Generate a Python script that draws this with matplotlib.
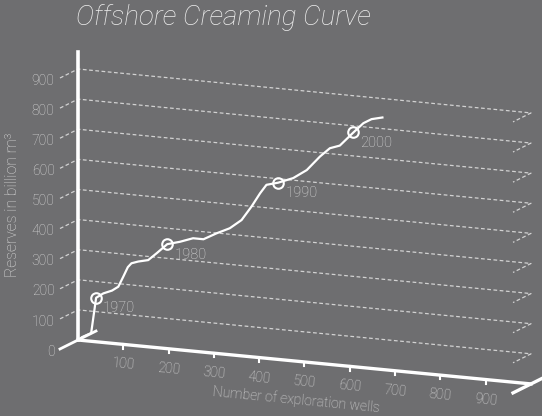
import math
import matplotlib
matplotlib.use('Agg')
import matplotlib.pyplot as plt
from mpl_toolkits.mplot3d import proj3d

W, H = 542, 416
BG = '#6e6e70'
FG = '#ffffff'
TXT = '#dadada'
GRID = '#d2d2d2'

# ---- data -------------------------------------------------------------
wells = [0, 9, 20, 29, 40, 56, 75, 89, 100, 110, 118, 133, 155, 174, 197,
         225, 254, 277, 306, 335, 361, 383, 402, 416, 442, 475, 505, 534,
         556, 578, 608, 630, 648, 672]
reserves = [0, 11, 20, 27, 146, 163, 175, 190, 225, 258, 272, 280, 288, 314,
            347, 359, 375, 375, 399, 420, 451, 499, 546, 576, 587, 607, 638,
            687, 718, 730, 778, 812, 828, 837]
year_labels = ['1970', '1980', '1990', '2000']
year_wells = [40, 197, 442, 608]
year_reserves = [146, 347, 587, 778]
reserve_ticks = [0, 100, 200, 300, 400, 500, 600, 700, 800, 900]
well_ticks = [100, 200, 300, 400, 500, 600, 700, 800, 900]

WELLS_MAX = 1000
RES_TOP = 957
FRONT, BACK, EXT = 0.0, 1.0, 2.0

plt.rcParams['font.family'] = ['Roboto', 'DejaVu Sans']
plt.rcParams['font.weight'] = 'light'

fig = plt.figure(figsize=(W / 100, H / 100), dpi=100, facecolor=BG)
S0 = 400
ax = fig.add_axes([(W - S0) / 2 / W, (H - S0) / 2 / H, S0 / W, S0 / H],
                  projection='3d', proj_type='ortho', computed_zorder=False)
ax.set_facecolor(BG)
ax.set_axis_off()
ax.view_init(elev=12.7, azim=-66.2)
ax.set_xlim(0, WELLS_MAX)
ax.set_ylim(FRONT, EXT)
ax.set_zlim(0, 1000)
ax.set_box_aspect((495, 89.2, 308.6))

# grid lines
for r in reserve_ticks[1:]:
    ax.plot([0, 0, WELLS_MAX, WELLS_MAX], [FRONT, BACK, BACK, FRONT], [r] * 4,
            color=GRID, lw=0.9, ls=(0, (3, 2)), zorder=1)

# axis lines
ax.plot([0, 0], [BACK, BACK], [0, RES_TOP], color=FG, lw=2.6, zorder=3)
ax.plot([0, WELLS_MAX], [BACK, BACK], [0, 0], color=FG, lw=2.4, zorder=3)
ax.plot([0, 0], [FRONT, EXT], [0, 0], color=FG, lw=2.0, zorder=3)
ax.plot([WELLS_MAX, WELLS_MAX], [FRONT, EXT], [0, 0], color=FG, lw=2.4, zorder=3)
for w in well_ticks:
    ax.plot([w, w], [BACK, BACK], [0, -14], color=FG, lw=1.5, zorder=3)

# data
ax.plot(wells, [BACK] * len(wells), reserves, color=FG, lw=1.6, zorder=4)
ax.plot(year_wells, [BACK] * len(year_wells), year_reserves, ls='none',
        marker='o', ms=7.6, mfc='none', mec=FG, mew=1.5, zorder=5)

# ---- place the 3D box on the canvas ----------------------------------
fig.canvas.draw()


def disp(x, y, z):
    X, Y, _ = proj3d.proj_transform(x, y, z, ax.get_proj())
    return ax.transData.transform((X, Y))


p0 = disp(0, BACK, 0)
p1 = disp(0, BACK, 900)
T0 = (78, H - 340)
T1y = H - 69
s = (T1y - T0[1]) / (p1[1] - p0[1])
bb = ax.get_position()
cx, cy = (bb.x0 + bb.width / 2) * W, (bb.y0 + bb.height / 2) * H
S = bb.width * W * s
ncx = T0[0] - s * (p0[0] - cx)
ncy = T0[1] - s * (p0[1] - cy)
ax.set_position([(ncx - S / 2) / W, (ncy - S / 2) / H, S / W, S / H])
fig.canvas.draw()

M = ax.get_proj()


def p2(x, y, z):
    X, Y, _ = proj3d.proj_transform(x, y, z, M)
    return (X, Y)


a0 = disp(0, BACK, 0)
a1 = disp(WELLS_MAX, BACK, 0)
ang = math.degrees(math.atan2(a1[1] - a0[1], a1[0] - a0[0]))

# tick labels
for r in reserve_ticks:
    ax.annotate(str(r), xy=p2(0, FRONT - 0.3, r), ha='right', va='center',
                color=TXT, fontsize=10)
for w in well_ticks:
    ax.annotate(str(w), xy=p2(w, BACK, -40), ha='center', va='top',
                rotation=ang, color=TXT, fontsize=10)
ax.annotate('Number of exploration wells', xy=p2(481, BACK, -128),
            ha='center', va='center', rotation=ang, color=TXT, fontsize=10)

# year annotations
for lbl, w, r in zip(year_labels, year_wells, year_reserves):
    ax.annotate(lbl, xy=p2(w, BACK, r), xytext=(5, -7.5),
                textcoords='offset points', ha='left', va='center',
                color=TXT, fontsize=10.5)

fig.text(76 / W, 1 - 25 / H, 'Offshore Creaming Curve', ha='left',
         va='baseline', fontsize=20, style='italic', color='#eeeeee')
fig.text(13 / W, 1 - 205 / H, 'Reserves in billion m³', rotation=90,
         ha='center', va='center', fontsize=11.3, color=TXT)

fig.savefig('out.png', dpi=100, facecolor=BG)
